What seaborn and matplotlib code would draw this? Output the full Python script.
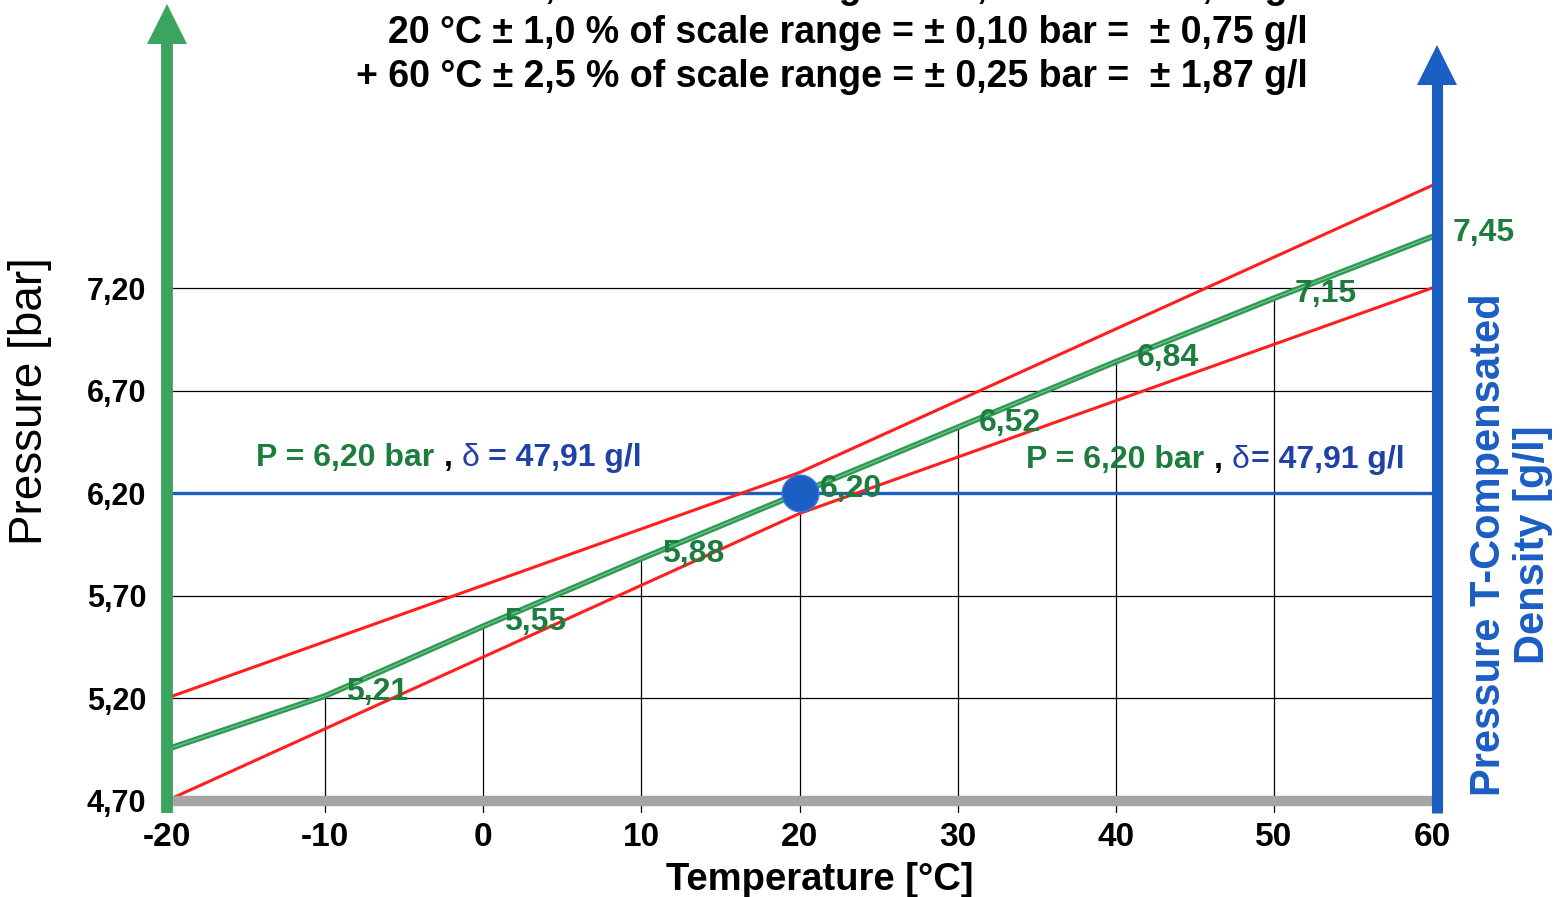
import numpy as np
import pandas as pd
import seaborn as sns
import matplotlib.pyplot as plt

# ---- data -------------------------------------------------------------
temperatures = [-20, -10, 0, 10, 20, 30, 40, 50, 60]
pressures = [4.95, 5.21, 5.55, 5.88, 6.20, 6.52, 6.84, 7.15, 7.45]
labelled_temps = [-10, 0, 10, 20, 30, 40, 50, 60]
gridline_temps = [-10, 0, 10, 20, 30, 40, 50]

tol_temps = [-20, 20, 60]
tol_bar = [0.25, 0.10, 0.25]

pressure_ticks = [4.70, 5.20, 5.70, 6.20, 6.70, 7.20]
pressure_ticklabels = ["4,70", "5,20", "5,70", "6,20", "6,70", "7,20"]
temp_ticks = [-20, -10, 0, 10, 20, 30, 40, 50, 60]

ref_temp = 20
ref_pressure = 6.20
ref_density = "47,91"

header_lines = [
    "- 20 °C ± 2,5 % of scale range = ± 0,25 bar =  ± 1,87 g/l",
    "20 °C ± 1,0 % of scale range = ± 0,10 bar =  ± 0,75 g/l",
    "+ 60 °C ± 2,5 % of scale range = ± 0,25 bar =  ± 1,87 g/l",
]

# ---- style ------------------------------------------------------------
sns.set_theme(style="white")
plt.rcParams["font.family"] = ["Liberation Sans", "DejaVu Sans"]

GREEN_TXT = "#1d7d3e"
GREEN_LINE = "#2f9a55"
GREEN_AXIS = "#3ba55f"
BLUE = "#1b5ec4"
BLUE_TXT = "#1f42a8"
RED = "#ff1f1f"
GREY = "#a5a5a5"

W, H = 1561, 897
fig = plt.figure(figsize=(W / 100, H / 100), dpi=100)
fig.patch.set_facecolor("white")
ax = fig.add_axes([167 / W, (H - 821) / H, 1265 / W, 821 / H])
ax.set_xlim(-20, 60)
ax.set_ylim(4.60, 8.605)
for s in ax.spines.values():
    s.set_visible(False)
ax.set_facecolor("none")

def fmt(v):
    return f"{v:.2f}".replace(".", ",")

curve = pd.DataFrame({"temp": temperatures, "pressure": pressures})
p_at = dict(zip(temperatures, pressures))

# horizontal grid lines (the 6,20 level is carried by the blue reference line)
for yv in pressure_ticks[1:]:
    if abs(yv - ref_pressure) > 1e-9:
        ax.plot([-20, 60], [yv, yv], color="black", lw=0.9, zorder=1)

# vertical drop lines from the base up to the curve
for t in gridline_temps:
    ax.plot([t, t], [4.645, p_at[t]], color="black", lw=0.9, zorder=1)

# tolerance band
band = pd.DataFrame({
    "temp": tol_temps * 2,
    "pressure": [p_at[t] + d for t, d in zip(tol_temps, tol_bar)]
                + [p_at[t] - d for t, d in zip(tol_temps, tol_bar)],
    "edge": ["upper"] * 3 + ["lower"] * 3,
})
sns.lineplot(data=band, x="temp", y="pressure", units="edge", estimator=None,
             color=RED, lw=2.2, ax=ax, zorder=3, legend=False)

# reference pressure line
ax.plot([-20, 60], [ref_pressure, ref_pressure], color=BLUE, lw=2.4, zorder=2)

# compensated pressure curve
sns.lineplot(data=curve, x="temp", y="pressure", color=GREEN_LINE, lw=4.2,
             ax=ax, zorder=4, legend=False)
sns.lineplot(data=curve, x="temp", y="pressure", color="#7cc98f", lw=0.8,
             ax=ax, zorder=4, legend=False)

# reference point
sns.scatterplot(x=[ref_temp], y=[ref_pressure], s=700, color=BLUE,
                edgecolor="#3a7ad8", linewidth=1, ax=ax, zorder=6, legend=False)

# base bar and axis arrows
ax.plot([-20, 60], [4.70, 4.70], color=GREY, lw=7.5, solid_capstyle="butt",
        zorder=5, clip_on=False)
ax.plot([-20, -20], [4.64, 8.42], color=GREEN_AXIS, lw=8.5,
        solid_capstyle="butt", zorder=7, clip_on=False)
ax.plot([-20], [8.49], marker="^", markersize=29, color=GREEN_AXIS,
        markeredgewidth=0, zorder=7, clip_on=False)
ax.plot([60.3, 60.3], [4.64, 8.23], color=BLUE, lw=8,
        solid_capstyle="butt", zorder=7, clip_on=False)
ax.plot([60.3], [8.29], marker="^", markersize=29, color=BLUE,
        markeredgewidth=0, zorder=7, clip_on=False)

# value labels along the curve
for t in labelled_temps:
    ax.annotate(fmt(p_at[t]), xy=(t, p_at[t]), xytext=(15, 3),
                textcoords="offset points", ha="left", va="center",
                fontsize=23, fontweight="bold", color=GREEN_TXT, zorder=8,
                annotation_clip=False)

# reference annotations
def ref_label(x0, y0, delta_gap):
    t1 = ax.text(x0, y0, f"P = {fmt(ref_pressure)} bar", fontsize=23,
                 fontweight="bold", color=GREEN_TXT, ha="left", va="baseline",
                 zorder=8)
    t2 = ax.annotate(",", xy=(1, 0), xycoords=t1, xytext=(7, 0),
                     textcoords="offset points", fontsize=23,
                     fontweight="bold", color="black", ha="left", va="bottom")
    t3 = ax.annotate("δ", xy=(1, 0), xycoords=t2, xytext=(7, 0),
                     textcoords="offset points", fontsize=23,
                     color=BLUE_TXT, ha="left", va="bottom")
    ax.annotate(f"= {ref_density} g/l", xy=(1, 0), xycoords=t3,
                xytext=(delta_gap, 0), textcoords="offset points",
                fontsize=23, fontweight="bold", color=BLUE_TXT,
                ha="left", va="bottom")

ref_label(-14.4, 6.33, 6)
ref_label(34.3, 6.32, 1)

# ticks
ax.set_yticks(pressure_ticks)
ax.set_yticklabels(pressure_ticklabels)
ax.set_xticks(temp_ticks)
ax.set_xticklabels([str(t) for t in temp_ticks])
ax.tick_params(axis="y", length=0, pad=15, labelsize=22, labelcolor="black")
ax.tick_params(axis="x", length=0, pad=1, labelsize=24, labelcolor="black")
for lab in ax.get_xticklabels() + ax.get_yticklabels():
    lab.set_fontweight("bold")

# axis titles
ax.set_xlabel("Temperature [°C]", fontsize=27.5, fontweight="bold", color="black")
ax.xaxis.set_label_coords((820 - 167) / 1265, -0.05)
ax.set_ylabel("Pressure [bar]", fontsize=33, color="black")
ax.yaxis.set_label_coords((52 - 167) / 1265, (821 - 401) / 821)
fig.text(1511 / W, 1 - 545 / H, "Pressure T-Compensated\nDensity [g/l]",
         rotation=90, ha="center", va="center", multialignment="center",
         fontsize=30, fontweight="bold", color=BLUE, linespacing=1.1)

# header
for line, yc in zip(header_lines, [-12, 33, 77]):
    fig.text(1308 / W, 1 - yc / H, line, ha="right", va="center",
             fontsize=27, fontweight="bold", color="black")

fig.savefig("out.png", dpi=100, facecolor="white")
